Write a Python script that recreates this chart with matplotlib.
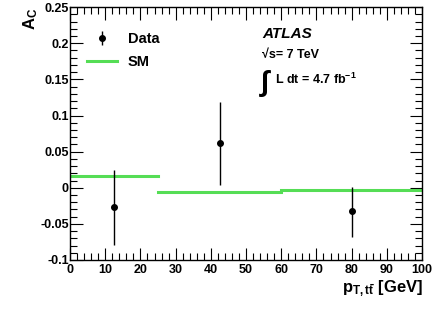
import matplotlib
matplotlib.use("Agg")
import matplotlib.pyplot as plt
from matplotlib.ticker import MultipleLocator, FuncFormatter

plt.rcParams['font.family'] = ['Liberation Sans', 'DejaVu Sans']
plt.rcParams['font.weight'] = 'bold'
plt.rcParams['mathtext.fontset'] = 'custom'
plt.rcParams['mathtext.rm'] = 'Liberation Sans:bold'
plt.rcParams['mathtext.it'] = 'Liberation Sans:bold'
plt.rcParams['mathtext.bf'] = 'Liberation Sans:bold'

# data
x_data = [12.5, 42.5, 80.0]
y_data = [-0.027, 0.0615, -0.0325]
err_up = [0.051, 0.057, 0.034]
err_dn = [0.052, 0.058, 0.035]

sm_edges = [0, 25, 60, 100]
sm_vals = [0.0157, -0.0063, -0.0036]

fig = plt.figure(figsize=(4.36, 3.11), dpi=100)
ax = fig.add_axes([0.1606, 0.164, 0.8074, 0.813])

for i, v in enumerate(sm_vals):
    ax.plot([sm_edges[i], sm_edges[i + 1]], [v, v], color='#55dd55', lw=2.2,
            label='SM' if i == 0 else None)

ax.errorbar(x_data, y_data, yerr=[err_dn, err_up], fmt='o', color='black',
            ms=4, lw=1, capsize=0, label='Data')

ax.set_xlim(0, 100)
ax.set_ylim(-0.1, 0.25)
ax.xaxis.set_major_locator(MultipleLocator(10))
ax.xaxis.set_minor_locator(MultipleLocator(2))
ax.yaxis.set_major_locator(MultipleLocator(0.05))
ax.yaxis.set_minor_locator(MultipleLocator(0.01))
ax.yaxis.set_major_formatter(FuncFormatter(lambda v, p: ('%g' % round(v, 3))))
ax.tick_params(which='both', direction='in', top=True, right=True,
               labelsize=9, width=0.8)
ax.tick_params(which='major', length=9)
ax.tick_params(axis='y', which='major', pad=1)
ax.tick_params(axis='x', which='major', pad=3)
ax.tick_params(which='minor', length=5)
for s in ax.spines.values():
    s.set_linewidth(1.0)
for lab in ax.get_xticklabels() + ax.get_yticklabels():
    lab.set_fontweight('bold')

h, l = ax.get_legend_handles_labels()
ax.legend([h[1], h[0]], [l[1], l[0]], loc='upper left',
          bbox_to_anchor=(0.031, 0.925), frameon=False, fontsize=10.5,
          handlelength=2.1, handletextpad=0.7, labelspacing=0.6,
          borderaxespad=0)

ax.text(0.545, 0.895, 'ATLAS', transform=ax.transAxes, fontsize=11,
        fontweight='bold', fontstyle='italic', va='center')
ax.text(0.545, 0.81, '\u221as= 7 TeV', transform=ax.transAxes, fontsize=9,
        va='center')
ax.text(0.538, 0.70, r'$\int$', transform=ax.transAxes, fontsize=21,
        va='center')
ax.text(0.583, 0.715, r'L dt = 4.7 fb$^{-1}$', transform=ax.transAxes,
        fontsize=9, va='center')

fig.text(0.05, 0.975, r'A$_{C}$', rotation=90, fontsize=12,
         fontweight='bold', ha='left', va='top')
fig.text(0.97, 0.04, r'p$_{T,t\bar{t}}$ [GeV]', fontsize=12,
         fontweight='bold', ha='right', va='bottom')

fig.savefig('out.png', dpi=100)
